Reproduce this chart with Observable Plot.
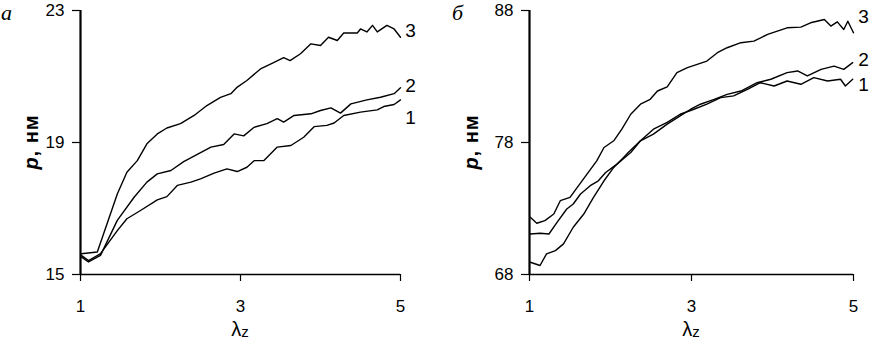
<!DOCTYPE html>
<html><head><meta charset="utf-8">
<script src="https://cdn.jsdelivr.net/npm/d3@7"></script>
<script src="https://cdn.jsdelivr.net/npm/@observablehq/plot@0.6"></script>
<style>
body{margin:0;background:#fff;}
#wrap{display:flex;width:869px;height:341px;overflow:hidden;}
</style></head><body><div id="wrap"></div>
<script>
// ---- Data ----
const xTicks = [1, 3, 5];
const yTicksA = [15, 19, 23];
const yTicksB = [68, 78, 88];
const seriesNames = ["1", "2", "3"];

// Panel а
const lamA1 = [1.01,1.1,1.25,1.46,1.58,1.75,1.96,2.08,2.21,2.38,2.5,2.67,2.83,2.96,3.08,3.17,3.29,3.46,3.63,3.79,3.92,4.08,4.17,4.29,4.5,4.71,4.79,4.92,5];
const pA1   = [15.58,15.42,15.63,16.33,16.69,16.94,17.26,17.36,17.7,17.8,17.9,18.07,18.2,18.12,18.25,18.45,18.45,18.86,18.91,19.16,19.48,19.52,19.59,19.82,19.92,19.99,20.09,20.15,20.29];
const lamA2 = [1.01,1.1,1.25,1.46,1.67,1.83,1.96,2.13,2.29,2.46,2.63,2.79,2.92,3.04,3.17,3.33,3.46,3.54,3.67,3.88,4.0,4.13,4.25,4.38,4.58,4.75,4.92,5];
const pA2   = [15.53,15.38,15.58,16.64,17.34,17.8,18.05,18.15,18.42,18.64,18.86,18.94,19.26,19.2,19.46,19.57,19.72,19.62,19.82,19.87,19.97,20.05,19.89,20.17,20.29,20.37,20.48,20.66];
const lamA3 = [1.01,1.21,1.29,1.46,1.58,1.71,1.83,1.96,2.08,2.25,2.42,2.58,2.75,2.88,2.96,3.08,3.25,3.42,3.54,3.62,3.75,3.88,4.0,4.1,4.21,4.29,4.46,4.5,4.58,4.65,4.71,4.83,4.92,5.0];
const pA3   = [15.63,15.68,16.24,17.44,18.1,18.45,18.96,19.26,19.44,19.57,19.82,20.12,20.37,20.48,20.68,20.88,21.23,21.43,21.57,21.48,21.69,21.99,21.94,22.19,22.09,22.32,22.32,22.44,22.35,22.55,22.35,22.55,22.44,22.19];
const labelYA = [19.76, 20.7, 22.39];

// Panel б
const lamB1 = [1.01,1.13,1.21,1.32,1.42,1.54,1.67,1.79,1.92,2.04,2.2,2.37,2.53,2.7,2.86,3.03,3.19,3.36,3.52,3.69,3.85,4.02,4.18,4.35,4.51,4.68,4.84,4.9,4.99];
const pB1   = [68.93,68.68,69.56,69.81,70.32,71.58,72.58,73.84,75.1,76.11,77.12,78.13,79.01,79.52,80.14,80.52,80.9,81.4,81.53,82.03,82.53,82.28,82.66,82.41,82.91,82.66,82.79,82.28,82.79];
const lamB2 = [1.01,1.13,1.24,1.34,1.46,1.54,1.63,1.75,1.85,1.94,2.08,2.25,2.37,2.53,2.7,2.86,2.99,3.11,3.28,3.44,3.61,3.81,3.98,4.18,4.31,4.43,4.6,4.76,4.88,4.99];
const pB2   = [71.07,71.12,71.07,71.95,72.96,73.34,74.1,74.73,75.1,75.73,76.36,77.24,78.13,78.63,79.39,80.02,80.52,80.9,81.27,81.65,81.9,82.53,82.79,83.29,83.42,83.04,83.54,83.79,83.54,84.05];
const lamB3 = [1.01,1.09,1.19,1.3,1.38,1.5,1.59,1.71,1.83,1.92,2.04,2.14,2.25,2.37,2.49,2.58,2.7,2.82,2.95,3.07,3.19,3.32,3.44,3.61,3.77,3.94,4.06,4.18,4.35,4.47,4.64,4.72,4.8,4.88,4.93,5.0];
const pB3   = [72.33,71.88,72.08,72.58,73.59,73.84,74.6,75.61,76.61,77.62,78.13,79.01,80.14,80.9,81.27,81.9,82.21,83.29,83.67,83.92,84.17,84.8,85.18,85.56,85.68,86.19,86.44,86.69,86.74,87.07,87.32,86.82,87.14,86.56,87.19,86.31];
const labelYB = [82.4, 84.29, 87.5];

// ---- Helpers ----
function rowsOf(lams, ps) {
  const out = [];
  lams.forEach((lam, i) => lam.forEach((x, j) => out.push({s: seriesNames[i], x, y: ps[i][j]})));
  return out;
}

function panel({width, marginLeft, marginRight, yDomain, yTicks, rows, labelY, letter, letterX}) {
  const labels = seriesNames.map((t, i) => ({t, y: labelY[i]}));
  const svg = Plot.plot({
    width, height: 341,
    marginLeft, marginRight, marginTop: 10, marginBottom: 67,
    style: {fontFamily: "'Liberation Sans', Arial, sans-serif", fontSize: "17px", color: "#000", background: "#fff", overflow: "visible"},
    x: {domain: [1, 5]},
    y: {domain: yDomain},
    marks: [
      Plot.axisX({ticks: xTicks, tickSize: 7, tickPadding: 18, label: null, tickFormat: d => String(d), strokeWidth: 1.2}),
      Plot.axisY({ticks: yTicks, tickSize: 8, tickPadding: 8, label: null, tickFormat: d => String(d), strokeWidth: 1.2}),
      Plot.ruleY([yDomain[0]], {stroke: "#000", strokeWidth: 1.3}),
      Plot.ruleX([1], {stroke: "#000", strokeWidth: 2.2}),
      Plot.line(rows, {x: "x", y: "y", z: "s", stroke: "#000", strokeWidth: 1.4}),
      Plot.text(labels, {x: 5, y: "y", text: "t", dx: 10, fontSize: 19, fill: "#000"})
    ]
  });
  const s = d3.select(svg);
  // y-axis label
  const cy = 10 + (341 - 10 - 67) / 2;
  const yl = s.append("text")
    .attr("transform", `translate(38,${cy}) rotate(-90)`)
    .attr("text-anchor", "middle")
    .attr("font-weight", "bold")
    .attr("font-size", 20)
    .attr("letter-spacing", 1)
    .attr("fill", "#000");
  yl.append("tspan").attr("font-style", "italic").text("p");
  yl.append("tspan").text(", нм");
  // x-axis label
  const cx = marginLeft + (width - marginLeft - marginRight) / 2;
  const xl = s.append("text")
    .attr("x", cx).attr("y", 336)
    .attr("text-anchor", "middle")
    .attr("font-size", 20)
    .attr("fill", "#000");
  xl.append("tspan").text("λ");
  xl.append("tspan").attr("font-size", 15).attr("dy", 1).text("z");
  // panel letter
  s.append("text")
    .attr("x", letterX).attr("y", 20)
    .attr("text-anchor", "start")
    .attr("font-family", "'Liberation Serif', 'Times New Roman', serif")
    .attr("font-style", "italic")
    .attr("font-size", 22)
    .attr("fill", "#000")
    .text(letter);
  return svg;
}

const wrap = document.getElementById("wrap");
wrap.append(panel({
  width: 440, marginLeft: 80, marginRight: 40,
  yDomain: [15, 23], yTicks: yTicksA,
  rows: rowsOf([lamA1, lamA2, lamA3], [pA1, pA2, pA3]),
  labelY: labelYA, letter: "а", letterX: 1
}));
wrap.append(panel({
  width: 429, marginLeft: 89, marginRight: 16,
  yDomain: [68, 88], yTicks: yTicksB,
  rows: rowsOf([lamB1, lamB2, lamB3], [pB1, pB2, pB3]),
  labelY: labelYB, letter: "б", letterX: 12
}));
</script>
</body></html>
